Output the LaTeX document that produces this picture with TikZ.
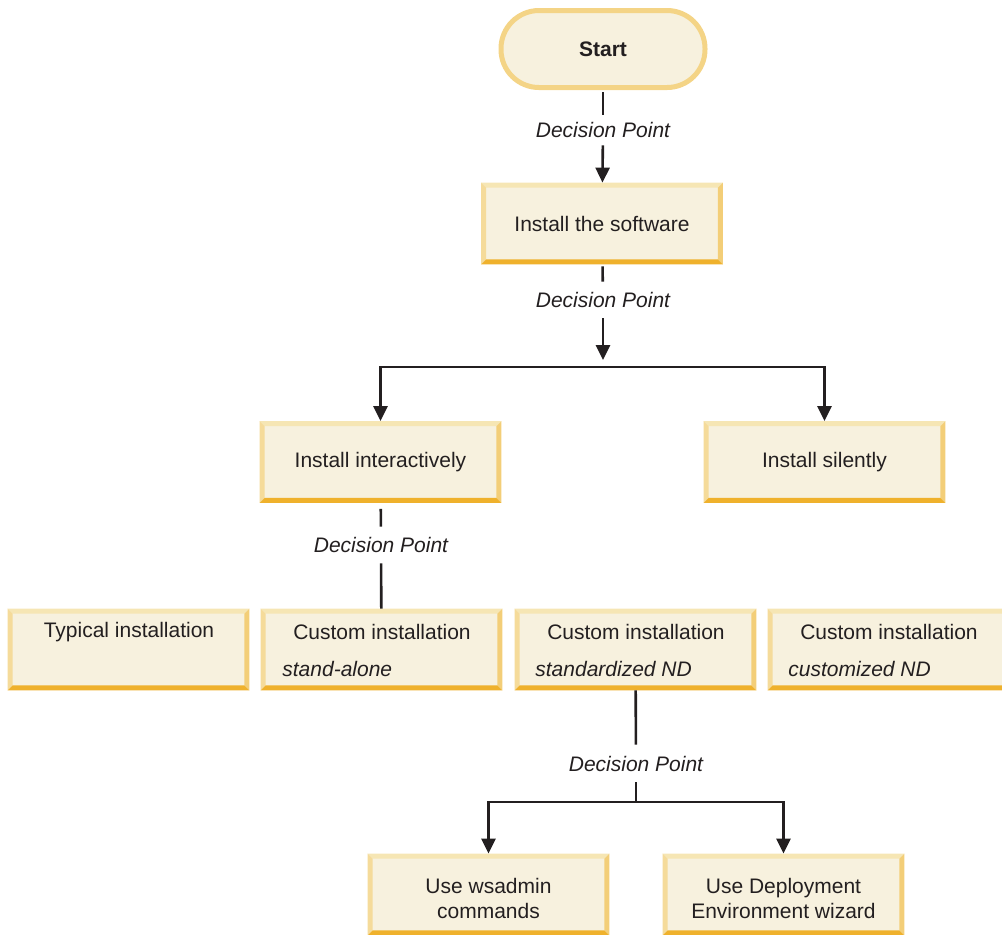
\documentclass[tikz,border=0pt]{standalone}
\usepackage{fontspec}
\setmainfont{Liberation Sans}
\usetikzlibrary{calc,arrows.meta}

\definecolor{ink}{HTML}{231F20}
\definecolor{boxfill}{HTML}{F7F1DE}
\definecolor{bvtop}{HTML}{F6E6B4}
\definecolor{bvleft}{HTML}{F5DB9A}
\definecolor{bvright}{HTML}{F3CE78}
\definecolor{bvbottom}{HTML}{EFB12C}
\definecolor{rim}{HTML}{F4D486}

\newlength{\bw}
\setlength{\bw}{2.5pt}
% bevelled frame round a box node
\newcommand{\bevel}[1]{%
	\fill[bvtop] (#1.north west) -- (#1.north east) -- ++(-\bw,-\bw) -- ($(#1.north west)+(\bw,-\bw)$) -- cycle;
	\fill[bvleft] (#1.north west) -- (#1.south west) -- ++(\bw,\bw) -- ($(#1.north west)+(\bw,-\bw)$) -- cycle;
	\fill[bvright] (#1.north east) -- (#1.south east) -- ++(-\bw,\bw) -- ($(#1.north east)+(-\bw,-\bw)$) -- cycle;
	\fill[bvbottom] (#1.south west) -- (#1.south east) -- ++(-\bw,\bw) -- ($(#1.south west)+(\bw,\bw)$) -- cycle;
}

\begin{document}
\begin{tikzpicture}[x=0.5pt,y=-0.5pt,font=\fontsize{10.5}{12.5}\selectfont,text=ink,
		stepbox/.style={minimum width=120.5pt,minimum height=40.5pt,inner sep=0pt,fill=boxfill},
		pill/.style={minimum width=102pt,minimum height=38.5pt,rounded corners=19pt,inner sep=0pt,fill=boxfill,draw=rim,line width=2.5pt},
		decision/.style={inner sep=0pt,minimum height=15pt,font=\fontsize{10.5}{12.5}\selectfont\itshape},
		subline/.style={anchor=west,inner sep=0pt,font=\fontsize{10.5}{12.5}\selectfont\itshape},
		link/.style={draw=ink,line width=1.3pt},
		arr/.style={link,-{Triangle[width=7pt,length=7.5pt]}}]
			\useasboundingbox (0,0) rectangle (1002,934);
			\clip (0,0) rectangle (1002,934);
			% boxes
			\node at (603,49) [pill] (start) {\bfseries Start};
			\node at (602,223.5) [stepbox] (soft) {Install the software};
			\node at (380.5,462) [stepbox] (inter) {Install interactively};
			\node at (824.5,462) [stepbox] (silent) {Install silently};
			\node at (128.5,649.5) [stepbox] (typical) {};
			\node at (381.5,649.5) [stepbox] (alone) {};
			\node at (635.5,649.5) [stepbox] (std) {};
			\node at (888.5,649.5) [stepbox] (cust) {};
			\node at (488.5,894.5) [stepbox] (wsadmin) {};
			\node at (783.5,894.5) [stepbox] (deploy) {};
			\foreach \b in {soft,inter,silent,typical,alone,std,cust,wsadmin,deploy}
				\bevel{\b};
			% texts in the lower boxes
			\node at (129,632) (typicalt) {Typical installation};
			\node at (382,632) (alonet) {Custom installation};
			\node at (282,669) [subline] (alonei) {stand-alone};
			\node at (636,632) (stdt) {Custom installation};
			\node at (535,669) [subline] (stdi) {standardized ND};
			\node at (889,632) (custt) {Custom installation};
			\node at (788,669) [subline] (custi) {customized ND};
			\node at (488.5,898) [align=center] (wsadmint) {Use wsadmin\\commands};
			\node at (783.5,898) [align=center] (deployt) {Use Deployment\\Environment wizard};
			% decision points
			\node at (603,130) [decision] (dp1) {Decision Point};
			\node at (603,300) [decision] (dp2) {Decision Point};
			\node at (381,545) [decision] (dp3) {Decision Point};
			\node at (636,764) [decision] (dp4) {Decision Point};
			\coordinate (j1) at (603,367);
			\coordinate (j2) at (636,802);
			% connectors
			\draw[link,shorten <=1pt] (start) -- (dp1);
			\draw[arr] (dp1) -- (soft);
			\draw[link,shorten <=1pt,shorten >=1.5pt] (soft) -- (dp2);
			\draw[arr,shorten <=1.5pt,shorten >=3.5pt] (dp2) -- (j1);
			\draw[arr] (j1) -| (inter.north);
			\draw[arr] (j1) -| (silent.north);
			\draw[link,shorten <=3pt,shorten >=1.5pt] (inter) -- (dp3);
			\draw[link,shorten <=1.5pt] (dp3) -- (alone);
			\draw[link,shorten >=2pt] (std) -- (dp4);
			\draw[link,shorten <=1.5pt] (dp4) -- (j2);
			\draw[arr] (j2) -| (wsadmin.north);
			\draw[arr] (j2) -| (deploy.north);
		\end{tikzpicture}
\end{document}
